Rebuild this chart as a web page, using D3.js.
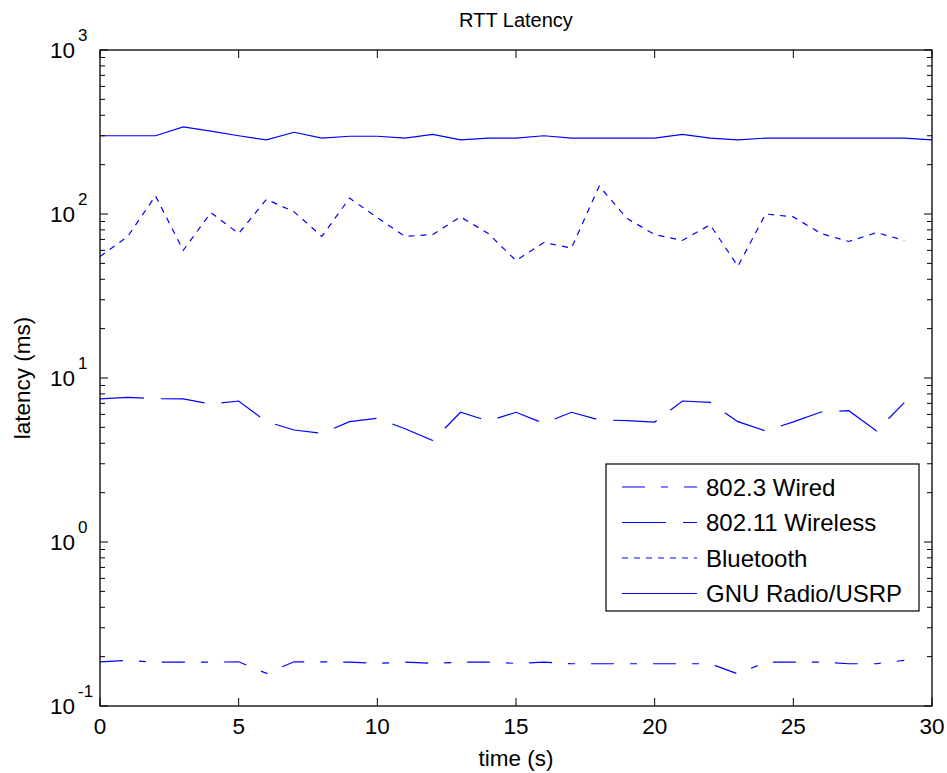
<!DOCTYPE html>
<html>
<head>
<meta charset="utf-8">
<script src="https://cdn.jsdelivr.net/npm/d3@7"></script>
<style>
  body { margin: 0; background: #fff; }
  svg text { font-family: "Liberation Sans", Arial, sans-serif; fill: #000; }
</style>
</head>
<body>
<div id="chart"></div>
<script>
// samples (seconds)
var time = [0,1,2,3,4,5,6,7,8,9,10,11,12,13,14,15,16,17,18,19,20,21,22,23,24,25,26,27,28,29];
var timeGnu = [0,1,2,3,4,5,6,7,8,9,10,11,12,13,14,15,16,17,18,19,20,21,22,23,24,25,26,27,28,29,30];

// RTT in ms
var wired = [0.186,0.19,0.185,0.185,0.185,0.186,0.158,0.186,0.186,0.185,0.182,0.185,0.182,0.185,0.185,
             0.182,0.185,0.181,0.181,0.181,0.181,0.181,0.181,0.157,0.185,0.185,0.185,0.181,0.181,0.19];
var wireless = [7.45,7.62,7.48,7.45,6.94,7.24,5.42,4.82,4.6,5.42,5.68,4.9,4.15,6.18,5.47,
                6.18,5.29,6.18,5.55,5.5,5.39,7.24,7.1,5.42,4.75,5.4,6.2,6.32,4.75,7.08];
var bluetooth = [55,73,129,60,102,76,123,103,73,125,95,73,75,96,76,
                 52,67,62,148,94,75,69,86,48,100,96,76,68,77,69];
var gnuRadio = [300,300,300,340,320,300,283,315,290,298,298,290,306,283,290,290,
                300,290,290,290,290,306,290,283,290,290,290,290,290,290,283];

var seriesNames = ["802.3 Wired", "802.11 Wireless", "Bluetooth", "GNU Radio/USRP"];
var xTicks = [0,5,10,15,20,25,30];
var yExponents = [-1,0,1,2,3];

var width = 947, height = 773;
var margin = {top: 50, right: 15, bottom: 67, left: 100};
var plotW = width - margin.left - margin.right;
var plotH = height - margin.top - margin.bottom;

var svg = d3.select("#chart").append("svg")
    .attr("width", width)
    .attr("height", height);

var g = svg.append("g")
    .attr("transform", "translate(" + margin.left + "," + margin.top + ")");

var x = d3.scaleLinear().domain([0, 30]).range([0, plotW]);
var y = d3.scaleLog().domain([0.1, 1000]).range([plotH, 0]);

var series = [
  {name: seriesNames[0], t: time, v: wired, dash: "23,16,7,16"},
  {name: seriesNames[1], t: time, v: wireless, dash: "44,17"},
  {name: seriesNames[2], t: time, v: bluetooth, dash: "6,6"},
  {name: seriesNames[3], t: timeGnu, v: gnuRadio, dash: null}
];

var line = d3.line()
    .x(function(d) { return x(d[0]); })
    .y(function(d) { return y(d[1]); });

// data lines
series.forEach(function(s) {
  g.append("path")
    .datum(s.t.map(function(t, i) { return [t, s.v[i]]; }))
    .attr("d", line)
    .attr("fill", "none")
    .attr("stroke", "#0000ff")
    .attr("stroke-width", 1.2)
    .attr("stroke-dasharray", s.dash);
});

// minor log ticks
var minor = [];
[0.1, 1, 10, 100].forEach(function(b) {
  for (var k = 2; k <= 9; k++) minor.push(b * k);
});
var majorVals = yExponents.map(function(e) { return Math.pow(10, e); });

var ticks = g.append("g").attr("stroke", "#000").attr("stroke-width", 1);
minor.forEach(function(v) {
  ticks.append("line").attr("x1", 0).attr("x2", 5).attr("y1", y(v)).attr("y2", y(v));
  ticks.append("line").attr("x1", plotW).attr("x2", plotW - 5).attr("y1", y(v)).attr("y2", y(v));
});
majorVals.forEach(function(v) {
  ticks.append("line").attr("x1", 0).attr("x2", 8).attr("y1", y(v)).attr("y2", y(v));
  ticks.append("line").attr("x1", plotW).attr("x2", plotW - 8).attr("y1", y(v)).attr("y2", y(v));
});
xTicks.forEach(function(t) {
  ticks.append("line").attr("x1", x(t)).attr("x2", x(t)).attr("y1", plotH).attr("y2", plotH - 8);
  ticks.append("line").attr("x1", x(t)).attr("x2", x(t)).attr("y1", 0).attr("y2", 8);
});

// box
g.append("rect")
  .attr("width", plotW).attr("height", plotH)
  .attr("fill", "none").attr("stroke", "#000").attr("stroke-width", 1.3);

// x tick labels
g.selectAll(".xlab").data(xTicks).enter().append("text")
  .attr("x", function(d) { return x(d); })
  .attr("y", plotH + 28)
  .attr("text-anchor", "middle")
  .style("font-size", "22.5px")
  .text(function(d) { return d; });

// y tick labels: 10 with superscript exponent
yExponents.forEach(function(e) {
  g.append("text")
    .attr("x", -25)
    .attr("y", y(Math.pow(10, e)) + 8)
    .attr("text-anchor", "end")
    .style("font-size", "22.5px")
    .text("10");
  g.append("text")
    .attr("x", -22)
    .attr("y", y(Math.pow(10, e)) - 9)
    .attr("text-anchor", "start")
    .style("font-size", "17px")
    .text(e);
});

// title and axis labels
svg.append("text")
  .attr("x", margin.left + plotW / 2)
  .attr("y", 27)
  .attr("text-anchor", "middle")
  .style("font-size", "20px")
  .text("RTT Latency");

svg.append("text")
  .attr("x", margin.left + plotW / 2)
  .attr("y", 766)
  .attr("text-anchor", "middle")
  .style("font-size", "22.5px")
  .text("time (s)");

svg.append("text")
  .attr("transform", "translate(30," + (margin.top + plotH / 2) + ") rotate(-90)")
  .attr("text-anchor", "middle")
  .style("font-size", "22.5px")
  .text("latency (ms)");

// legend
var leg = svg.append("g").attr("transform", "translate(606,464)");
leg.append("rect")
  .attr("width", 313).attr("height", 147)
  .attr("fill", "#fff").attr("stroke", "#000").attr("stroke-width", 1.2);

var rows = leg.selectAll(".row").data(series).enter().append("g")
  .attr("transform", function(d, i) { return "translate(0," + (23 + i * 35.5) + ")"; });
rows.append("line")
  .attr("x1", 16).attr("x2", 91).attr("y1", 0).attr("y2", 0)
  .attr("stroke", "#0000ff").attr("stroke-width", 1.2)
  .attr("stroke-dasharray", function(d) { return d.dash; });
rows.append("text")
  .attr("x", 100).attr("y", 8.5)
  .style("font-size", "24px")
  .text(function(d) { return d.name; });
</script>
</body>
</html>
